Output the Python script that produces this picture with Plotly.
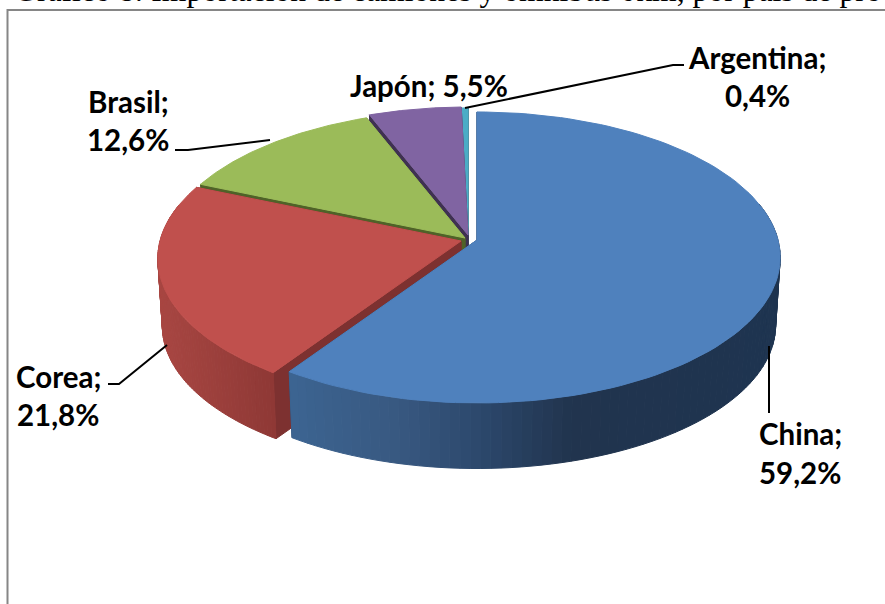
import numpy as np
import plotly.graph_objects as go

# === Datos ===
paises = ['China', 'Corea', 'Brasil', 'Japón', 'Argentina']
valores = [59.2, 21.8, 12.6, 5.5, 0.4]
titulo = 'Gráfico 8: Importación de camiones y ómnibus 0km, por país de pro'

# === Estilo por porcion ===
color_tapa = {'China': '#4f81bd', 'Corea': '#c0504d', 'Brasil': '#9bbb59', 'Japón': '#8064a2', 'Argentina': '#4bacc6'}
color_corte = {'China': '#2c4a70', 'Corea': '#7d3130', 'Brasil': '#4f6228', 'Japón': '#3f3151', 'Argentina': '#215968'}
centro = {'China': (477, 240), 'Corea': (461, 241), 'Brasil': (465, 238), 'Japón': (468, 235), 'Argentina': (468, 236)}
# tramos de sombra de la pared exterior: (x en pixeles, color rgb)
sombra = {
    'China': [(292, (60, 100, 145)), (400, (56, 88, 128)), (480, (44, 72, 108)), (570, (33, 52, 78)), (780, (30, 52, 80))],
    'Corea': [(158, (168, 70, 66)), (275, (142, 56, 53))],
}

# === Proyeccion de la torta ===
RADIO = 301
ALTO = 143.4
PERSPECTIVA = 0.12
PROFUNDIDAD = 68
ENCOGE = 0.985


def proyectar(t):
    u, v = np.sin(t), -np.cos(t)
    s = 1 / (1 - PERSPECTIVA * v)
    return RADIO * u * s, ALTO * v * s


def poligono(fig, x, y, color):
    # se cierra el contorno para que el borde no deje rayas
    x = np.append(x, x[0])
    y = np.append(y, y[0])
    fig.add_trace(go.Scatter(x=x, y=y, mode='lines', fill='toself', fillcolor=color,
                             line=dict(color=color, width=1), hoverinfo='skip', showlegend=False))


def color_sombra(nombre, x):
    tramos = sombra[nombre]
    xs = [p[0] for p in tramos]
    rgb = [np.interp(x, xs, [p[1][i] for p in tramos]) for i in range(3)]
    return f'rgb({rgb[0]:.0f},{rgb[1]:.0f},{rgb[2]:.0f})'


fig = go.Figure()

total = sum(valores)
acumulado = np.cumsum([0] + valores) / total * 2 * np.pi
angulos = {p: (acumulado[i], acumulado[i + 1]) for i, p in enumerate(paises)}

# se dibuja de atras hacia adelante
for pais in ['Argentina', 'Japón', 'Brasil', 'Corea', 'China']:
    t0, t1 = angulos[pais]
    cx, cy = centro[pais]

    # pared del corte (lado del angulo inicial y final)
    for t in (t0, t1):
        dx, dy = proyectar(t)
        poligono(fig,
                 np.array([cx, cx + dx, cx + dx * ENCOGE, cx]),
                 np.array([cy, cy + dy, cy + dy * ENCOGE + PROFUNDIDAD, cy + PROFUNDIDAD]),
                 color_corte[pais])

    # pared exterior por franjas, solo en la parte de adelante
    if pais in sombra:
        ini = max(t0, np.radians(75))
        fin = min(t1, np.radians(285))
        bordes = np.linspace(ini, fin, 81)
        for a, b in zip(bordes[:-1], bordes[1:]):
            tt = np.linspace(a, b, 4)
            dx, dy = proyectar(tt)
            x = np.concatenate([cx + dx, cx + dx[::-1] * ENCOGE])
            y = np.concatenate([cy + dy, cy + dy[::-1] * ENCOGE + PROFUNDIDAD])
            poligono(fig, x, y, color_sombra(pais, float(np.mean(cx + dx))))

    # tapa
    tt = np.linspace(t0, t1, 120)
    dx, dy = proyectar(tt)
    poligono(fig, np.concatenate([[cx], cx + dx]), np.concatenate([[cy], cy + dy]), color_tapa[pais])

# === Lineas guia ===
guias = [
    ([465, 673, 684], [108, 65, 65]),
    ([175, 188, 270], [150, 150, 140]),
    ([108, 119, 167], [384, 384, 345]),
    ([769, 769], [346, 413]),
]
for gx, gy in guias:
    fig.add_trace(go.Scatter(x=gx, y=gy, mode='lines', line=dict(color='black', width=2),
                             hoverinfo='skip', showlegend=False))

# === Etiquetas ===
etiquetas = {
    'China': (800, 433, 472),
    'Corea': (58, 376, 414),
    'Brasil': (128, 101, 139),
    'Argentina': (757, 57, 95),
}
fuente = dict(family='Lato', size=29.5, color='black')
for pais, valor in zip(paises, valores):
    txt = f'{valor:.1f}%'.replace('.', ',')
    if pais == 'Japón':
        fig.add_annotation(x=429, y=85, text=f'<b>{pais}; {txt}</b>', showarrow=False, font=fuente)
    else:
        lx, ly1, ly2 = etiquetas[pais]
        fig.add_annotation(x=lx, y=ly1, text=f'<b>{pais};</b>', showarrow=False, font=fuente)
        fig.add_annotation(x=lx, y=ly2, text=f'<b>{txt}</b>', showarrow=False, font=fuente)

# titulo cortado arriba, como en la captura
fig.add_annotation(x=12, y=10.5, text=titulo, showarrow=False, xanchor='left', yanchor='bottom',
                   font=dict(family='Liberation Serif', size=31.7, color='black'))

# marco del grafico
fig.add_trace(go.Scatter(x=[7.5, 7.5, 885], y=[604, 10, 10], mode='lines', line=dict(color='#868686', width=2),
                         hoverinfo='skip', showlegend=False))

fig.update_layout(
    width=885, height=604,
    margin=dict(l=0, r=0, t=0, b=0),
    paper_bgcolor='white', plot_bgcolor='white',
    xaxis=dict(range=[0, 885], visible=False),
    yaxis=dict(range=[604, 0], visible=False),
)

# sin margen del body para que el grafico llene la ventana
fig.write_html("out.html", config={'displayModeBar': False},
               post_script="document.body.style.margin='0';document.body.style.overflow='hidden';")
